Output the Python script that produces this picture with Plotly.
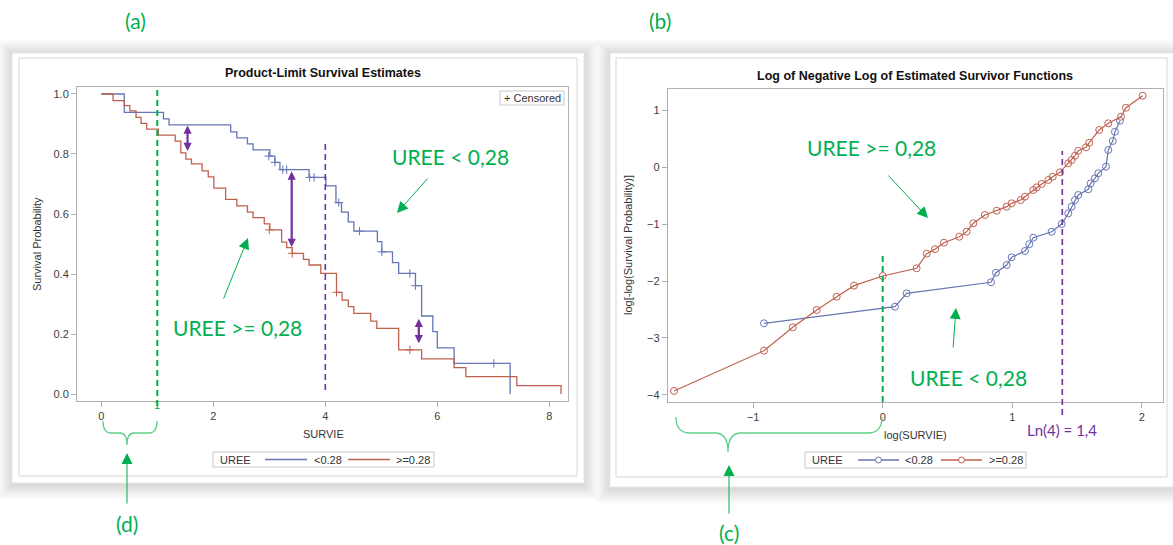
import plotly.graph_objects as go

# ---------------- data ----------------
groups = ["<0.28", ">=0.28"]
group_title = "UREE"

# Kaplan-Meier (panel a)
km_t_lo = [0, 0.41, 1.11, 1.21, 2.31, 2.42, 2.61, 2.71, 3.01, 3.10, 3.19, 3.71, 4.01, 4.19, 4.29,
           4.41, 4.51, 4.93, 5.01, 5.20, 5.31, 5.61, 5.72, 5.92, 6.00, 6.30, 7.30]
km_s_lo = [1.0, 0.939, 0.917, 0.897, 0.874, 0.854, 0.834, 0.814, 0.793, 0.772, 0.748, 0.722, 0.694, 0.638,
           0.606, 0.574, 0.543, 0.508, 0.474, 0.438, 0.402, 0.361, 0.26, 0.208, 0.154, 0.102, 0.0]
cens_t_lo = [2.99, 3.10, 3.24, 3.31, 3.72, 3.80, 4.24, 4.61, 5.01, 5.51, 5.61, 7.01]
cens_s_lo = [0.793, 0.772, 0.748, 0.748, 0.722, 0.722, 0.638, 0.543, 0.474, 0.402, 0.361, 0.102]

km_t_hi = [0, 0.21, 0.41, 0.51, 0.62, 0.71, 0.81, 1.02, 1.32, 1.42, 1.51, 1.61, 1.80, 1.91, 2.01,
           2.22, 2.42, 2.61, 2.71, 2.91, 3.01, 3.22, 3.31, 3.41, 3.61, 3.71, 3.92, 4.20, 4.30, 4.41,
           4.51, 4.81, 4.92, 5.31, 5.72, 6.30, 6.51, 7.42, 8.21]
km_s_hi = [1.0, 0.978, 0.961, 0.944, 0.922, 0.902, 0.883, 0.863, 0.843, 0.804, 0.783, 0.767, 0.744,
           0.724, 0.686, 0.649, 0.627, 0.606, 0.588, 0.567, 0.547, 0.506, 0.488, 0.469, 0.449, 0.43,
           0.402, 0.339, 0.313, 0.291, 0.269, 0.243, 0.219, 0.147, 0.117, 0.088, 0.058, 0.028, 0.0]
cens_t_hi = [3.00, 3.41, 4.20, 5.51]
cens_s_hi = [0.547, 0.469, 0.339, 0.147]

# log(-log S) vs log(t) (panel b)
ll_x_lo = [-0.916, 0.095, 0.185, 0.836, 0.874, 0.957, 0.995, 1.098, 1.131, 1.162, 1.304, 1.381, 1.432,
           1.458, 1.484, 1.509, 1.586, 1.605, 1.638, 1.664, 1.723, 1.741, 1.775, 1.792, 1.831]
ll_y_lo = [-2.742, -2.450, -2.215, -2.020, -1.852, -1.717, -1.582, -1.471, -1.352, -1.237, -1.132,
           -0.997, -0.809, -0.692, -0.575, -0.487, -0.387, -0.281, -0.193, -0.105, 0.011, 0.304,
           0.462, 0.626, 0.819]
ll_x_hi = [-1.610, -0.916, -0.694, -0.509, -0.355, -0.221, 0.0, 0.262, 0.340, 0.404, 0.473, 0.591,
           0.648, 0.699, 0.789, 0.880, 0.957, 0.995, 1.065, 1.098, 1.162, 1.188, 1.227, 1.278, 1.312,
           1.368, 1.432, 1.458, 1.484, 1.509, 1.569, 1.594, 1.671, 1.741, 1.839, 1.877, 2.006]
ll_y_hi = [-3.931, -3.223, -2.812, -2.508, -2.274, -2.080, -1.910, -1.775, -1.518, -1.438, -1.325,
           -1.220, -1.131, -0.984, -0.838, -0.762, -0.692, -0.633, -0.575, -0.516, -0.399, -0.352,
           -0.293, -0.223, -0.165, -0.088, 0.070, 0.128, 0.204, 0.292, 0.351, 0.432, 0.656, 0.773,
           0.889, 1.047, 1.258]

left_xticks = [0, 2, 4, 6, 8]
left_yticks = [0.0, 0.2, 0.4, 0.6, 0.8, 1.0]
right_xticks = [-1, 0, 1, 2]
right_yticks = [-4, -3, -2, -1, 0, 1]

# ---------------- style ----------------
W, H = 1173, 545
BLUE = "#6676b4"
RED = "#c0604f"
GREEN = "#00B050"
PURPLE = "#7030A0"
TICK = "#404040"
FRAME = "#b0b0b0"
SANS = "Liberation Sans, Arial, sans-serif"
CAL = "Lato, sans-serif"


def fx(x):
    return x / W


def fy(y):
    return 1 - y / H


def path(points_cmds):
    out = []
    for cmd, pts in points_cmds:
        out.append(cmd + " " + " ".join(f"{fx(a):.5f},{fy(b):.5f}" for a, b in pts))
    return " ".join(out)


fig = go.Figure()

# panel (a) traces
fig.add_trace(go.Scatter(x=km_t_lo, y=km_s_lo, mode="lines", line=dict(color=BLUE, width=1.3, shape="hv"),
                         xaxis="x", yaxis="y", showlegend=False, name=groups[0]))
fig.add_trace(go.Scatter(x=km_t_hi, y=km_s_hi, mode="lines", line=dict(color=RED, width=1.3, shape="hv"),
                         xaxis="x", yaxis="y", showlegend=False, name=groups[1]))
fig.add_trace(go.Scatter(x=cens_t_lo, y=cens_s_lo, mode="markers",
                         marker=dict(symbol="cross-thin", size=6, line=dict(color=BLUE, width=1)),
                         xaxis="x", yaxis="y", showlegend=False))
fig.add_trace(go.Scatter(x=cens_t_hi, y=cens_s_hi, mode="markers",
                         marker=dict(symbol="cross-thin", size=6, line=dict(color=RED, width=1)),
                         xaxis="x", yaxis="y", showlegend=False))

# panel (b) traces
fig.add_trace(go.Scatter(x=ll_x_lo, y=ll_y_lo, mode="lines+markers", line=dict(color=BLUE, width=1.2),
                         marker=dict(symbol="circle-open", size=7, color=BLUE, line=dict(width=1)),
                         xaxis="x2", yaxis="y2", showlegend=False, name=groups[0]))
fig.add_trace(go.Scatter(x=ll_x_hi, y=ll_y_hi, mode="lines+markers", line=dict(color=RED, width=1.2),
                         marker=dict(symbol="circle-open", size=7, color=RED, line=dict(width=1)),
                         xaxis="x2", yaxis="y2", showlegend=False, name=groups[1]))

shapes = []
# soft drop shadows + panel boxes
boxes = [(12, 53, 584, 483), (610, 53, 1175, 487)]
for (x0, y0, x1, y1) in boxes:
    for k in range(12, 0, -1):
        d = k * 1.2
        shapes.append(dict(type="rect", xref="paper", yref="paper", layer="below",
                           x0=fx(x0 - d), x1=fx(x1 + d), y0=fy(y1 + d + 2), y1=fy(y0 - d + 1),
                           fillcolor="rgba(0,0,0,0.011)", line=dict(width=0)))
for (x0, y0, x1, y1) in boxes:
    shapes.append(dict(type="rect", xref="paper", yref="paper", layer="below",
                       x0=fx(x0), x1=fx(x1), y0=fy(y1), y1=fy(y0),
                       fillcolor="white", line=dict(color="#e6e6e6", width=1)))
for (x0, y0, x1, y1) in [(19, 58, 577, 476), (616, 58, 1167, 477)]:
    shapes.append(dict(type="rect", xref="paper", yref="paper", layer="below",
                       x0=fx(x0), x1=fx(x1), y0=fy(y1), y1=fy(y0),
                       fillcolor="white", line=dict(color="#d6d6d6", width=1)))

# dashed reference lines
shapes.append(dict(type="line", xref="x", yref="paper", x0=1, x1=1, y0=fy(406), y1=fy(90),
                   line=dict(color=GREEN, width=2, dash="6px,4px")))
shapes.append(dict(type="line", xref="x", yref="paper", x0=4, x1=4, y0=fy(390), y1=fy(143),
                   line=dict(color=PURPLE, width=1.6, dash="6px,4px")))
shapes.append(dict(type="line", xref="x2", yref="paper", x0=0, x1=0, y0=fy(402), y1=fy(252),
                   line=dict(color=GREEN, width=2, dash="6px,4px")))
shapes.append(dict(type="line", xref="x2", yref="paper", x0=1.386, x1=1.386, y0=fy(415), y1=fy(151),
                   line=dict(color=PURPLE, width=1.6, dash="6px,4px")))

# braces
shapes.append(dict(type="path", xref="paper", yref="paper", line=dict(color="#5fcf8a", width=1.3),
                   path=path([("M", [(103, 421)]), ("Q", [(103, 433), (111, 433)]), ("L", [(120, 433)]),
                              ("Q", [(127, 433), (127, 445)]), ("Q", [(127, 433), (134, 433)]),
                              ("L", [(149, 433)]), ("Q", [(157, 433), (157, 421)])])))
shapes.append(dict(type="path", xref="paper", yref="paper", line=dict(color="#5fcf8a", width=1.3),
                   path=path([("M", [(676, 417)]), ("Q", [(676, 433), (690, 433)]), ("L", [(715, 433)]),
                              ("Q", [(728, 433), (728, 452)]), ("Q", [(728, 433), (741, 433)]),
                              ("L", [(868, 433)]), ("Q", [(882, 433), (882, 417)])])))

# censored box
shapes.append(dict(type="rect", xref="paper", yref="paper", x0=fx(500), x1=fx(564), y0=fy(105), y1=fy(91),
                   line=dict(color="#c8c8c8", width=1), fillcolor="white"))

# legend boxes
legend_specs = [
    dict(box=(213, 452, 434, 467), title_x=218, items=[(265, 307, 312), (348, 390, 394)], marker=False),
    dict(box=(805, 452, 1026, 468), title_x=810, items=[(858, 899, 903), (941, 982, 987)], marker=True),
]
colors = [BLUE, RED]
annotations = []
for spec in legend_specs:
    x0, y0, x1, y1 = spec["box"]
    ym = (y0 + y1) / 2
    shapes.append(dict(type="rect", xref="paper", yref="paper", x0=fx(x0), x1=fx(x1), y0=fy(y1), y1=fy(y0),
                       line=dict(color="#c8c8c8", width=1), fillcolor="white"))
    annotations.append(dict(x=fx(spec["title_x"]), y=fy(ym), xref="paper", yref="paper", text=group_title,
                            showarrow=False, xanchor="left", yanchor="middle",
                            font=dict(family=SANS, size=11, color="#333333")))
    for (lx0, lx1, tx), name, c in zip(spec["items"], groups, colors):
        shapes.append(dict(type="line", xref="paper", yref="paper", x0=fx(lx0), x1=fx(lx1), y0=fy(ym), y1=fy(ym),
                           line=dict(color=c, width=1.3)))
        if spec["marker"]:
            cx = (lx0 + lx1) / 2
            shapes.append(dict(type="circle", xref="paper", yref="paper", x0=fx(cx - 3), x1=fx(cx + 3),
                               y0=fy(ym + 3), y1=fy(ym - 3), line=dict(color=c, width=1), fillcolor="white"))
        annotations.append(dict(x=fx(tx), y=fy(ym), xref="paper", yref="paper", text=name, showarrow=False,
                                xanchor="left", yanchor="middle", font=dict(family=SANS, size=11, color="#333333")))


def txt(x, y, s, size=11, color="#333333", family=SANS, **kw):
    d = dict(x=fx(x), y=fy(y), xref="paper", yref="paper", text=s, showarrow=False,
             xanchor="center", yanchor="middle", font=dict(family=family, size=size, color=color))
    d.update(kw)
    annotations.append(d)


# titles
txt(323, 73, "<b>Product-Limit Survival Estimates</b>", size=12.5, color="#111111")
txt(915, 76, "<b>Log of Negative Log of Estimated Survivor Functions</b>", size=12.5, color="#111111")
# axis titles
txt(323, 434, "SURVIE")
txt(915, 435, "log(SURVIE)")
txt(37, 244, "Survival Probability", textangle=-90)
txt(628, 245, "log[-log(Survival Probability)]", textangle=-90)
txt(532, 98, "+ Censored", size=11)
# green "1" tick label
annotations.append(dict(x=1, y=fy(413), xref="x", yref="paper", text="1", showarrow=False,
                        font=dict(family=SANS, size=11, color=GREEN)))
# green labels
txt(135, 21, "(a)", size=21, color=GREEN, family=CAL)
txt(660, 21, "(b)", size=21, color=GREEN, family=CAL)
txt(127, 523, "(d)", size=21, color=GREEN, family=CAL)
txt(729, 532, "(c)", size=21, color=GREEN, family=CAL)
txt(451, 156, "UREE &lt; 0,28", size=21, color=GREEN, family=CAL)
txt(237, 327, "UREE &gt;= 0,28", size=21, color=GREEN, family=CAL)
txt(872, 147, "UREE &gt;= 0,28", size=21, color=GREEN, family=CAL)
txt(968, 377, "UREE &lt; 0,28", size=21, color=GREEN, family=CAL)
txt(1062, 430, "Ln(4) = 1,4", size=15, color=PURPLE, family=CAL)


def garrow(tail, tip):
    annotations.append(dict(x=fx(tip[0]), y=fy(tip[1]), xref="paper", yref="paper", text="",
                            showarrow=True, ax=tail[0] - tip[0], ay=tail[1] - tip[1],
                            arrowhead=2, arrowsize=2.2, arrowwidth=1, arrowcolor=GREEN))


garrow((429, 177), (397, 213))
garrow((223, 300), (248, 238))
garrow((887, 174), (928, 218))
garrow((953, 349), (956, 308))
garrow((127, 505), (127, 453))
garrow((729, 515), (729, 465))

# purple double arrows (panel a)
for (xa, ytop, ybot) in [(1.54, 0.90, 0.81), (3.40, 0.747, 0.49), (5.67, 0.256, 0.169)]:
    annotations.append(dict(x=xa, y=ybot, xref="x", yref="y", axref="x", ayref="y", ax=xa, ay=ytop,
                            text="", showarrow=True, arrowhead=2, startarrowhead=2, arrowside="end+start",
                            arrowsize=0.75, startarrowsize=0.75, arrowwidth=2.2, arrowcolor=PURPLE))

axis_common = dict(showline=True, mirror=True, linecolor=FRAME, linewidth=1, ticks="outside", ticklen=5,
                   tickcolor=FRAME, showgrid=False, zeroline=False,
                   tickfont=dict(family=SANS, size=11, color=TICK))

fig.update_layout(
    width=W, height=H, margin=dict(l=0, r=0, t=0, b=0),
    paper_bgcolor="white", plot_bgcolor="rgba(0,0,0,0)",
    showlegend=False,
    xaxis=dict(domain=[fx(77), fx(568)], range=[-0.434, 8.334], tickvals=left_xticks, anchor="y",
               **axis_common),
    yaxis=dict(domain=[fy(401), fy(87)], range=[-0.0233, 1.0233], tickvals=left_yticks,
               ticktext=[f"{v:.1f}" for v in left_yticks], anchor="x", **axis_common),
    xaxis2=dict(domain=[fx(667.7), fx(1163)], range=[-1.659, 2.163], tickvals=right_xticks, anchor="y2",
                **axis_common),
    yaxis2=dict(domain=[fy(402), fy(89.3)], range=[-4.125, 1.371], tickvals=right_yticks, anchor="x2",
                **axis_common),
    shapes=shapes,
    annotations=annotations,
)

fig.write_html("out.html", config={"displayModeBar": False},
               post_script="document.body.style.margin='0';document.body.style.overflow='hidden';")
